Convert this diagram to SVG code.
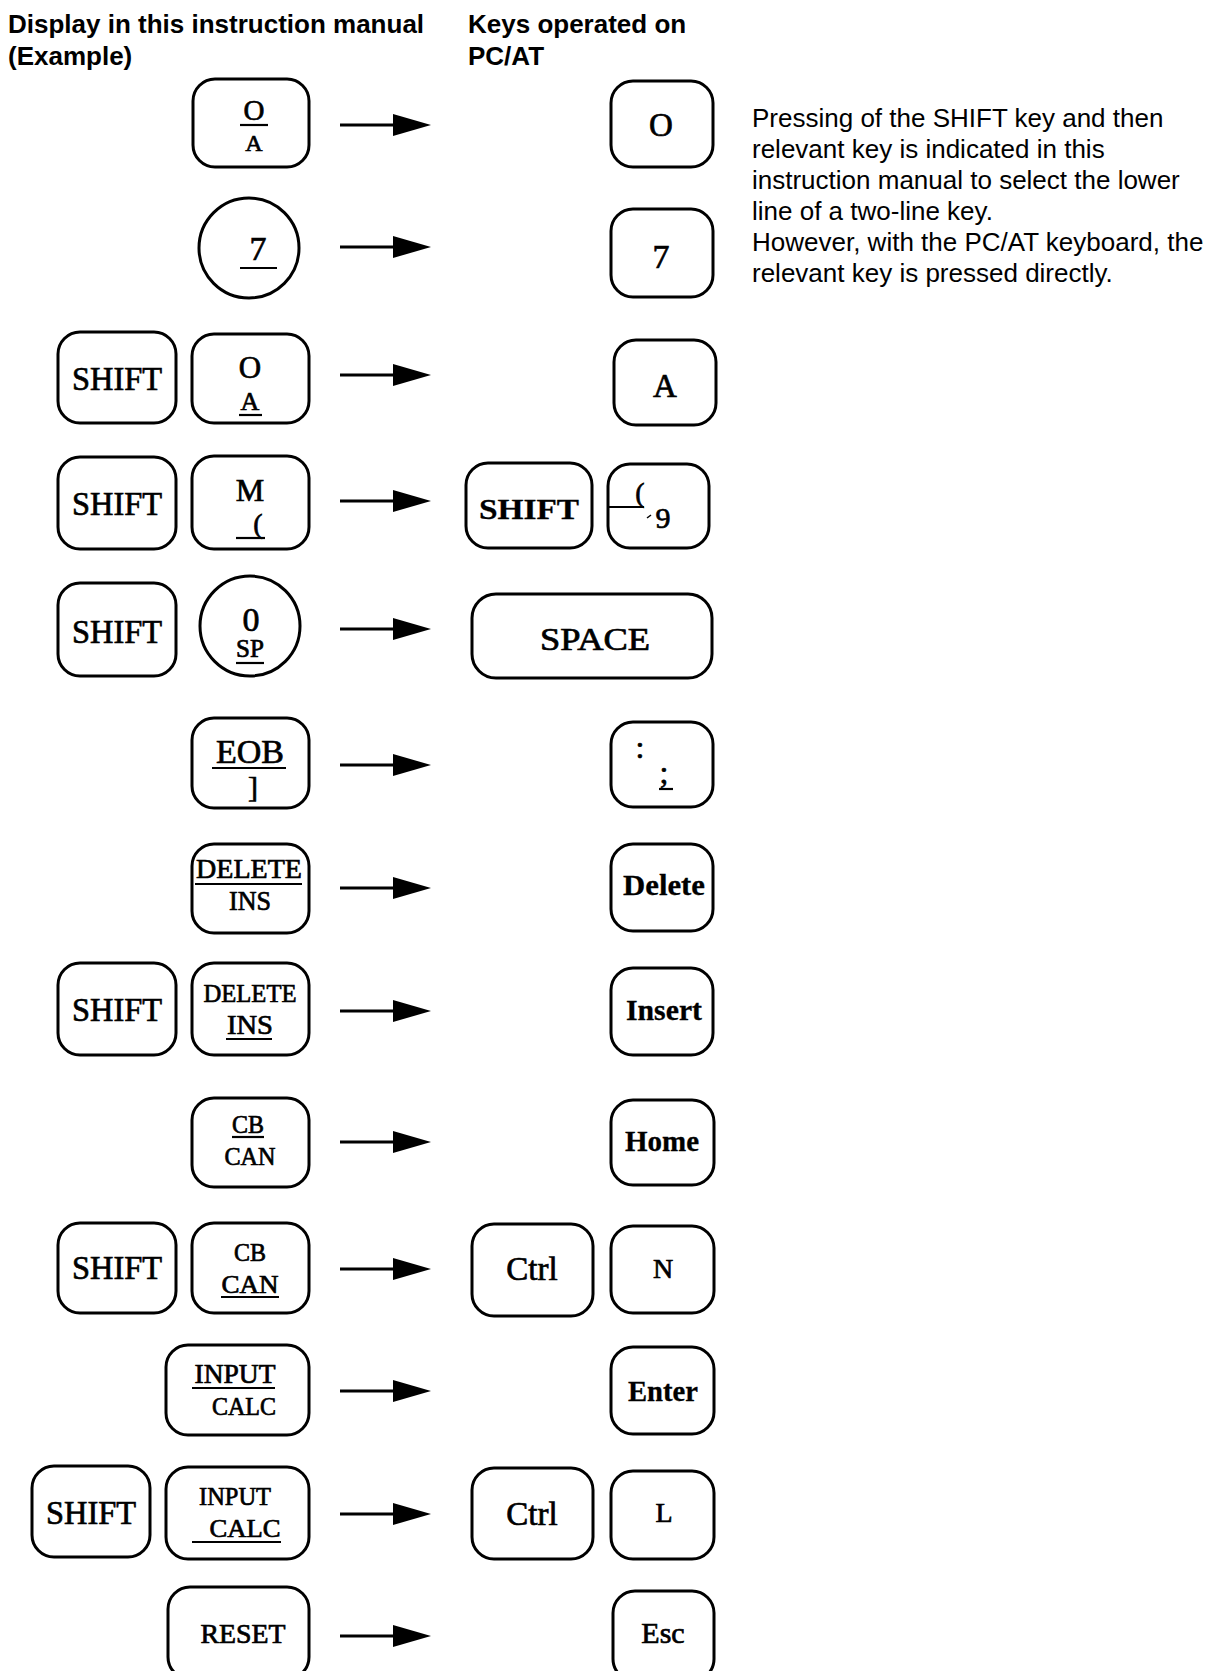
<svg xmlns="http://www.w3.org/2000/svg" width="1210" height="1671" viewBox="0 0 1210 1671">
<defs>
<style>
.k{fill:#fff;stroke:#000;stroke-width:3}
.t{font-family:"Liberation Serif","Times New Roman",serif;fill:#000;stroke:#000;stroke-width:0.7;text-anchor:middle}
.b{font-weight:bold;stroke-width:0.3}
.ul{stroke:#000;stroke-width:2.2}
.h{font-family:"Liberation Sans",Arial,sans-serif;font-weight:bold;font-size:26px;fill:#000}
.p{font-family:"Liberation Sans",Arial,sans-serif;font-size:26px;fill:#000}
.c{stroke:#000;stroke-width:3.2;fill:none}
</style>
<marker id="ah" markerUnits="userSpaceOnUse" markerWidth="40" markerHeight="24" refX="1" refY="11" orient="auto">
<path d="M0,0 L38,11 L0,22 Z" fill="#000"/>
</marker>
</defs>
<rect width="1210" height="1671" fill="#fff"/>

<g id="headers">
<text class="h" x="8" y="33">Display in this instruction manual</text>
<text class="h" x="8" y="65">(Example)</text>
<text class="h" x="468" y="33">Keys operated on</text>
<text class="h" x="468" y="65">PC/AT</text>
</g>

<g id="note">
<text class="p" x="752" y="127">Pressing of the SHIFT key and then</text>
<text class="p" x="752" y="158">relevant key is indicated in this</text>
<text class="p" x="752" y="189">instruction manual to select the lower</text>
<text class="p" x="752" y="220">line of a two-line key.</text>
<text class="p" x="752" y="251">However, with the PC/AT keyboard, the</text>
<text class="p" x="752" y="282">relevant key is pressed directly.</text>
</g>

<g id="connectors">
<line class="c" x1="340" y1="125" x2="394" y2="125" marker-end="url(#ah)"/>
<line class="c" x1="340" y1="247" x2="394" y2="247" marker-end="url(#ah)"/>
<line class="c" x1="340" y1="375" x2="394" y2="375" marker-end="url(#ah)"/>
<line class="c" x1="340" y1="501" x2="394" y2="501" marker-end="url(#ah)"/>
<line class="c" x1="340" y1="629" x2="394" y2="629" marker-end="url(#ah)"/>
<line class="c" x1="340" y1="765" x2="394" y2="765" marker-end="url(#ah)"/>
<line class="c" x1="340" y1="888" x2="394" y2="888" marker-end="url(#ah)"/>
<line class="c" x1="340" y1="1011" x2="394" y2="1011" marker-end="url(#ah)"/>
<line class="c" x1="340" y1="1142" x2="394" y2="1142" marker-end="url(#ah)"/>
<line class="c" x1="340" y1="1269" x2="394" y2="1269" marker-end="url(#ah)"/>
<line class="c" x1="340" y1="1391" x2="394" y2="1391" marker-end="url(#ah)"/>
<line class="c" x1="340" y1="1514" x2="394" y2="1514" marker-end="url(#ah)"/>
<line class="c" x1="340" y1="1636" x2="394" y2="1636" marker-end="url(#ah)"/>
</g>

<!-- Row 1 -->
<g id="r1-manual-OA">
<rect class="k" x="193" y="79" width="116" height="88" rx="22"/>
<text class="t" x="254" y="120" font-size="29">O</text>
<line class="ul" x1="240" y1="125" x2="268" y2="125"/>
<text class="t" x="254" y="151" font-size="24">A</text>
</g>
<g id="r1-pc-O">
<rect class="k" x="611" y="81" width="102" height="86" rx="22"/>
<text class="t" x="661" y="136" font-size="33">O</text>
</g>

<!-- Row 2 -->
<g id="r2-manual-7">
<circle class="k" cx="249" cy="248" r="50"/>
<text class="t" x="258" y="260" font-size="34">7</text>
<line class="ul" x1="240" y1="268" x2="277" y2="268"/>
</g>
<g id="r2-pc-7">
<rect class="k" x="611" y="209" width="102" height="88" rx="22"/>
<text class="t" x="661" y="268" font-size="34">7</text>
</g>

<!-- Row 3 -->
<g id="r3-manual-shift">
<rect class="k" x="58" y="332" width="118" height="91" rx="22"/>
<text class="t" x="117" y="390" font-size="34" textLength="90" lengthAdjust="spacingAndGlyphs">SHIFT</text>
</g>
<g id="r3-manual-OA">
<rect class="k" x="192" y="334" width="117" height="89" rx="22"/>
<text class="t" x="250" y="378" font-size="31">O</text>
<text class="t" x="250" y="410" font-size="26">A</text>
<line class="ul" x1="239" y1="415" x2="262" y2="415"/>
</g>
<g id="r3-pc-A">
<rect class="k" x="614" y="340" width="102" height="85" rx="22"/>
<text class="t" x="665" y="397" font-size="33">A</text>
</g>

<!-- Row 4 -->
<g id="r4-manual-shift">
<rect class="k" x="58" y="457" width="118" height="92" rx="22"/>
<text class="t" x="117" y="515" font-size="34" textLength="90" lengthAdjust="spacingAndGlyphs">SHIFT</text>
</g>
<g id="r4-manual-M">
<rect class="k" x="192" y="456" width="117" height="93" rx="22"/>
<text class="t" x="250" y="501" font-size="32">M</text>
<text class="t" x="258" y="533" font-size="28">(</text>
<line class="ul" x1="236" y1="538" x2="265" y2="538"/>
</g>
<g id="r4-pc-shift">
<rect class="k" x="466" y="463" width="126" height="85" rx="22"/>
<text class="t b" x="529" y="519" font-size="29" textLength="100" lengthAdjust="spacingAndGlyphs">SHIFT</text>
</g>
<g id="r4-pc-9">
<rect class="k" x="608" y="464" width="101" height="84" rx="22"/>
<text class="t" x="640" y="502" font-size="28">(</text>
<line class="ul" x1="608" y1="507" x2="644" y2="507"/>
<text class="t" x="663" y="528" font-size="30">9</text>
<line x1="647" y1="518" x2="651" y2="515" stroke="#000" stroke-width="1.5"/>
</g>

<!-- Row 5 -->
<g id="r5-manual-shift">
<rect class="k" x="58" y="583" width="118" height="93" rx="22"/>
<text class="t" x="117" y="643" font-size="34" textLength="90" lengthAdjust="spacingAndGlyphs">SHIFT</text>
</g>
<g id="r5-manual-0SP">
<ellipse class="k" cx="250" cy="626" rx="50" ry="50"/>
<text class="t" x="251" y="631" font-size="34">0</text>
<text class="t" x="250" y="657" font-size="25">SP</text>
<line class="ul" x1="236" y1="663" x2="264" y2="663"/>
</g>
<g id="r5-pc-space">
<rect class="k" x="472" y="594" width="240" height="84" rx="24"/>
<text class="t" x="595" y="650" font-size="31" textLength="110" lengthAdjust="spacingAndGlyphs">SPACE</text>
</g>

<!-- Row 6 -->
<g id="r6-manual-EOB">
<rect class="k" x="192" y="718" width="117" height="90" rx="22"/>
<text class="t" x="250" y="763" font-size="34" textLength="68" lengthAdjust="spacingAndGlyphs">EOB</text>
<line class="ul" x1="212" y1="768" x2="286" y2="768"/>
<text class="t" x="253" y="797" font-size="30">]</text>
</g>
<g id="r6-pc-colon">
<rect class="k" x="611" y="722" width="102" height="85" rx="22"/>
<text class="t" x="640" y="758" font-size="32">:</text>
<text class="t" x="664" y="783" font-size="32">;</text>
<line class="ul" x1="659" y1="789" x2="673" y2="789"/>
</g>

<!-- Row 7 -->
<g id="r7-manual-delete">
<rect class="k" x="192" y="844" width="117" height="89" rx="22"/>
<text class="t" x="249" y="878" font-size="28" textLength="106" lengthAdjust="spacingAndGlyphs">DELETE</text>
<line class="ul" x1="195" y1="884" x2="302" y2="884"/>
<text class="t" x="250" y="910" font-size="27" textLength="42" lengthAdjust="spacingAndGlyphs">INS</text>
</g>
<g id="r7-pc-delete">
<rect class="k" x="611" y="844" width="102" height="87" rx="22"/>
<text class="t b" x="664" y="895" font-size="30" textLength="82" lengthAdjust="spacingAndGlyphs">Delete</text>
</g>

<!-- Row 8 -->
<g id="r8-manual-shift">
<rect class="k" x="58" y="963" width="118" height="92" rx="22"/>
<text class="t" x="117" y="1021" font-size="34" textLength="90" lengthAdjust="spacingAndGlyphs">SHIFT</text>
</g>
<g id="r8-manual-delete">
<rect class="k" x="192" y="963" width="117" height="92" rx="22"/>
<text class="t" x="250" y="1002" font-size="26" textLength="93" lengthAdjust="spacingAndGlyphs">DELETE</text>
<text class="t" x="250" y="1034" font-size="27" textLength="46" lengthAdjust="spacingAndGlyphs">INS</text>
<line class="ul" x1="226" y1="1039" x2="272" y2="1039"/>
</g>
<g id="r8-pc-insert">
<rect class="k" x="611" y="968" width="102" height="87" rx="22"/>
<text class="t b" x="664" y="1020" font-size="30" textLength="76" lengthAdjust="spacingAndGlyphs">Insert</text>
</g>

<!-- Row 9 -->
<g id="r9-manual-CB">
<rect class="k" x="192" y="1098" width="117" height="89" rx="22"/>
<text class="t" x="248" y="1133" font-size="25" textLength="32" lengthAdjust="spacingAndGlyphs">CB</text>
<line class="ul" x1="232" y1="1137" x2="264" y2="1137"/>
<text class="t" x="250" y="1165" font-size="25" textLength="51" lengthAdjust="spacingAndGlyphs">CAN</text>
</g>
<g id="r9-pc-home">
<rect class="k" x="611" y="1100" width="103" height="85" rx="22"/>
<text class="t b" x="662" y="1151" font-size="29" textLength="74" lengthAdjust="spacingAndGlyphs">Home</text>
</g>

<!-- Row 10 -->
<g id="r10-manual-shift">
<rect class="k" x="58" y="1223" width="118" height="90" rx="22"/>
<text class="t" x="117" y="1279" font-size="34" textLength="90" lengthAdjust="spacingAndGlyphs">SHIFT</text>
</g>
<g id="r10-manual-CB">
<rect class="k" x="192" y="1223" width="117" height="90" rx="22"/>
<text class="t" x="250" y="1261" font-size="25" textLength="32" lengthAdjust="spacingAndGlyphs">CB</text>
<text class="t" x="250" y="1293" font-size="25" textLength="57" lengthAdjust="spacingAndGlyphs">CAN</text>
<line class="ul" x1="221" y1="1297" x2="279" y2="1297"/>
</g>
<g id="r10-pc-ctrl">
<rect class="k" x="472" y="1224" width="121" height="92" rx="22"/>
<text class="t" x="532" y="1280" font-size="33">Ctrl</text>
</g>
<g id="r10-pc-N">
<rect class="k" x="611" y="1226" width="103" height="87" rx="22"/>
<text class="t" x="663" y="1278" font-size="28">N</text>
</g>

<!-- Row 11 -->
<g id="r11-manual-input">
<rect class="k" x="166" y="1345" width="143" height="90" rx="22"/>
<text class="t" x="235" y="1383" font-size="27" textLength="81" lengthAdjust="spacingAndGlyphs">INPUT</text>
<line class="ul" x1="192" y1="1388" x2="275" y2="1388"/>
<text class="t" x="244" y="1415" font-size="25" textLength="64" lengthAdjust="spacingAndGlyphs">CALC</text>
</g>
<g id="r11-pc-enter">
<rect class="k" x="611" y="1347" width="103" height="87" rx="22"/>
<text class="t b" x="663" y="1401" font-size="29" textLength="70" lengthAdjust="spacingAndGlyphs">Enter</text>
</g>

<!-- Row 12 -->
<g id="r12-manual-shift">
<rect class="k" x="32" y="1466" width="118" height="91" rx="22"/>
<text class="t" x="91" y="1524" font-size="34" textLength="90" lengthAdjust="spacingAndGlyphs">SHIFT</text>
</g>
<g id="r12-manual-input">
<rect class="k" x="166" y="1467" width="143" height="92" rx="22"/>
<text class="t" x="235" y="1505" font-size="25" textLength="72" lengthAdjust="spacingAndGlyphs">INPUT</text>
<text class="t" x="245" y="1537" font-size="25" textLength="71" lengthAdjust="spacingAndGlyphs">CALC</text>
<line class="ul" x1="192" y1="1542" x2="281" y2="1542"/>
</g>
<g id="r12-pc-ctrl">
<rect class="k" x="472" y="1468" width="121" height="91" rx="22"/>
<text class="t" x="532" y="1525" font-size="33">Ctrl</text>
</g>
<g id="r12-pc-L">
<rect class="k" x="611" y="1471" width="103" height="88" rx="22"/>
<text class="t" x="664" y="1522" font-size="28">L</text>
</g>

<!-- Row 13 -->
<g id="r13-manual-reset">
<rect class="k" x="168" y="1587" width="141" height="92" rx="22"/>
<text class="t" x="243" y="1643" font-size="27" textLength="85" lengthAdjust="spacingAndGlyphs">RESET</text>
</g>
<g id="r13-pc-esc">
<rect class="k" x="613" y="1591" width="101" height="90" rx="22"/>
<text class="t" x="663" y="1643" font-size="30">Esc</text>
</g>
</svg>
